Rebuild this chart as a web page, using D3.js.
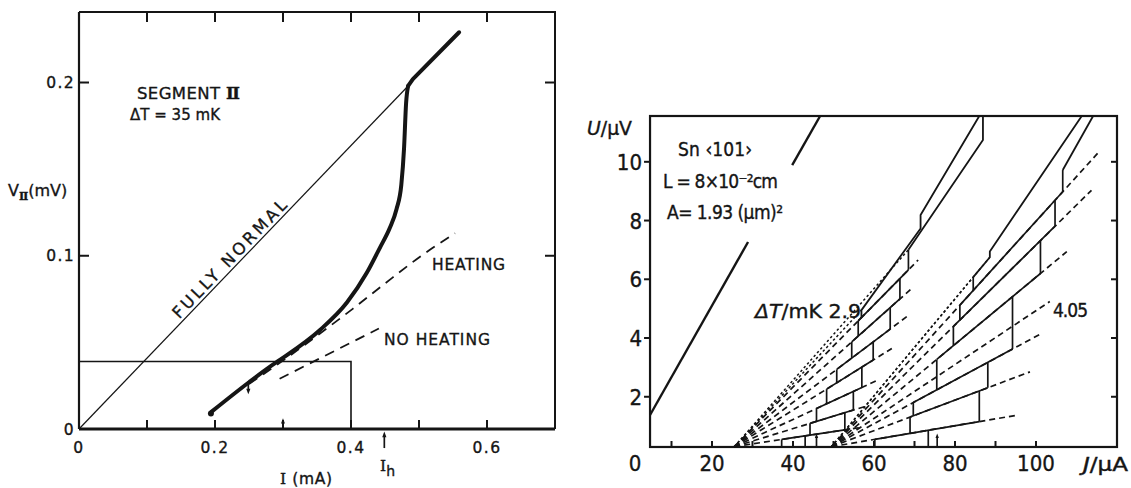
<!DOCTYPE html>
<html>
<head>
<meta charset="utf-8">
<script src="https://cdn.jsdelivr.net/npm/d3@7/dist/d3.min.js"></script>
<style>
  html, body { margin: 0; padding: 0; background: #fff; }
  svg { display: block; }
  .la { font-family: "DejaVu Sans", "Liberation Sans", sans-serif; fill: #151515; stroke: #151515; stroke-width: 0.35px; }
  .lb { font-family: "DejaVu Sans Condensed", "DejaVu Sans", sans-serif; font-stretch: condensed; fill: #151515; stroke: #151515; stroke-width: 0.35px; }
  .rn { font-family: "DejaVu Serif", "Liberation Serif", serif; font-weight: bold; }
  .sf { font-family: "DejaVu Serif", "Liberation Serif", serif; }
</style>
</head>
<body>
<svg id="fig" width="1131" height="488" viewBox="0 0 1131 488"></svg>
<script>
// ================= Left panel: V_II versus I =================
const iDomain = [0, 0.7];
const vDomain = [0, 0.2407];
const iTickLabels = [0, 0.2, 0.4, 0.6];
const iTickMarks = [0.1, 0.2, 0.3, 0.4, 0.5, 0.6];
const vTickLabels = [0, 0.1, 0.2];
const vTickMarks = [0.1, 0.2];

// measured characteristic (thick curve) and its normal-state branch
const measuredIV = [[0.195,0.010],[0.25,0.027],[0.281,0.036],[0.296,0.040],[0.354,0.057],
  [0.394,0.073],[0.423,0.090],[0.443,0.105],[0.457,0.116],[0.467,0.127],[0.474,0.141],
  [0.478,0.162],[0.481,0.188],[0.484,0.198]];
const normalBranch = [[0.484,0.198],[0.491,0.202],[0.559,0.229]];
const fullyNormal = [[0,0],[0.484,0.198]];
const heatingModel = [[0.25,0.026],[0.30,0.0395],[0.354,0.055],[0.403,0.0695],[0.45,0.084],[0.50,0.099],[0.553,0.113]];
const noHeatingModel = [[0.295,0.029],[0.441,0.058]];
const windowBox = [[0,0.039],[0.4,0.039],[0.4,0]];
const startPoint = [0.194, 0.009];
const probeMark = [0.249, 0.0275, 0.0200];   // I, V from, V to
const axisArrowA = [0.30, 0, 0.0062];
const ihArrow = [0.449, -0.011, -0.0015];

// ================= Right panel: U versus J, Sn <101> =================
const jDomain = [0, 120];
const uDomain = [0, 11.56];
const frameJ = [4.7, 120];
const frameU = [0.29, 11.56];
const jTickLabels = [0, 20, 40, 60, 80, 100];
const jTickMarks = [10, 20, 30, 40, 50, 60, 70, 80, 90, 100];
const uTickLabels = [2, 4, 6, 8, 10];

const normalLineLow = [[4.7,1.38],[28.9,7.27]];
const normalLineHigh = [[39.8,9.89],[46.7,11.56]];

// dT = 2.9 mK family
const fanOrigin29 = [25.5, 0.3];
const fanEnds29 = [[56.5,0.951],[58.5,1.70],[60.7,2.553],[64.4,3.645],[68.5,4.772],[69.3,5.687],[70.9,6.656]];
const fanDotted29 = [[68.5,7.008],[56.9,4.95]];
const treads29 = [
  [37.2,0.546,52.8,0.873],[44.2,1.095,54.9,1.550],[45.8,1.599,57.0,2.316],[48.3,2.261,59.8,3.250],
  [50.8,2.931,64.0,4.304],[54.5,3.867,66.4,5.331],[56.1,4.584,68.5,6.320]];
const risers29 = [
  [37.2,0.29,0.546],[43.0,0.29,0.668],
  [44.2,0.693,1.095],[45.8,1.163,1.599],[48.3,1.759,2.261],[50.8,2.476,2.931],[54.5,3.316,3.867],[56.1,4.064,4.584],
  [52.8,0.873,1.460],[54.9,1.550,2.182],[57.0,2.316,3.009],[59.8,3.250,3.867],[64.0,4.304,5.036],[66.4,5.331,6.026],[68.5,6.320,7.008]];
const upper29 = [[56.1,4.584],[56.9,4.70],[56.9,4.95],[71.5,7.73],[71.5,8.19],[86.0,11.56]];
const lower29 = [[68.5,7.008],[86.9,10.74],[86.9,11.56]];
const arrow29 = [45.8, 0.29, 0.75];

// dT = 4.05 mK family
const fanOrigin405 = [49.5, 0.3];
const fanEnds405 = [[95.6,1.379],[98.5,2.848],[101.4,4.161],[103.4,5.243],[107.6,6.941],[113.7,9.031],[115.4,10.317]];
const fanDotted405 = [[88.6,6.752],[84.5,6.075]];
const treads405 = [
  [60.2,0.550,86.0,1.154],[68.9,1.309,88.1,2.307],[69.7,1.803,94.2,3.626],
  [75.5,3.272,101.1,6.198],[79.6,4.394,104.7,7.807],[81.2,5.118,106.6,8.979]];
const risers405 = [
  [60.2,0.29,0.550],[73.4,0.29,0.859],
  [68.9,0.754,1.309],[69.7,1.350,1.803],[75.5,2.234,3.272],[79.6,3.740,4.394],[81.2,4.611,5.118],[84.5,5.620,6.075],
  [86.0,1.154,2.198],[88.1,2.307,3.172],[94.2,3.626,5.409],[101.1,6.198,7.318],[104.7,7.807,8.690],[106.6,8.979,9.720]];
const upper405 = [[84.5,6.075],[88.6,6.752],[88.6,6.95],[111.3,11.56]];
const lower405 = [[106.6,9.72],[114.1,11.56]];
const arrow405 = [75.6, 0.32, 0.75];

// ---------------------------------------------------------------
const ink = "#151515";
const svg = d3.select("#fig");

function arrowUp(g, x, yTail, yHead, s) {
  g.append("line").attr("x1", x).attr("x2", x).attr("y1", yTail).attr("y2", yHead + s)
    .attr("stroke", ink).attr("stroke-width", 1.7);
  g.append("path").attr("d", `M${x},${yHead} L${x - s * 0.6},${yHead + s * 1.6} L${x + s * 0.6},${yHead + s * 1.6} Z`)
    .attr("fill", ink);
}
function arrowDown(g, x, yTail, yHead, s) {
  g.append("line").attr("x1", x).attr("x2", x).attr("y1", yTail).attr("y2", yHead - s)
    .attr("stroke", ink).attr("stroke-width", 1.7);
  g.append("path").attr("d", `M${x},${yHead} L${x - s * 0.6},${yHead - s * 1.6} L${x + s * 0.6},${yHead - s * 1.6} Z`)
    .attr("fill", ink);
}
// single-line label spread to a given width
function fit(sel, w, glyphs) {
  return sel.attr("textLength", w).attr("lengthAdjust", glyphs ? "spacingAndGlyphs" : "spacing");
}

// ======== left panel ========
const xA = d3.scaleLinear().domain(iDomain).range([79, 555]);
const yA = d3.scaleLinear().domain(vDomain).range([429, 12]);
const lineA = d3.line().x(d => xA(d[0])).y(d => yA(d[1]));
const smoothA = d3.line().x(d => xA(d[0])).y(d => yA(d[1])).curve(d3.curveMonotoneX);
const gA = svg.append("g");

gA.append("path").attr("d", lineA([[iDomain[0], vDomain[1]], [iDomain[1], vDomain[1]], [iDomain[1], vDomain[0]]]))
  .attr("fill", "none").attr("stroke", ink).attr("stroke-width", 2);
gA.append("path").attr("d", lineA([[0, 0], [0, vDomain[1]]]))
  .attr("fill", "none").attr("stroke", ink).attr("stroke-width", 2.2);
gA.append("path").attr("d", lineA([[0, 0], [iDomain[1], 0]]))
  .attr("fill", "none").attr("stroke", ink).attr("stroke-width", 2.8);

iTickMarks.forEach(v => {
  gA.append("line").attr("x1", xA(v)).attr("x2", xA(v)).attr("y1", yA(0)).attr("y2", yA(0) - 9)
    .attr("stroke", ink).attr("stroke-width", 2);
  gA.append("line").attr("x1", xA(v)).attr("x2", xA(v)).attr("y1", yA(vDomain[1])).attr("y2", yA(vDomain[1]) + 10)
    .attr("stroke", ink).attr("stroke-width", 2);
});
vTickMarks.forEach(v => {
  gA.append("line").attr("x1", xA(0)).attr("x2", xA(0) + 10).attr("y1", yA(v)).attr("y2", yA(v))
    .attr("stroke", ink).attr("stroke-width", 2);
  gA.append("line").attr("x1", xA(iDomain[1])).attr("x2", xA(iDomain[1]) - 10).attr("y1", yA(v)).attr("y2", yA(v))
    .attr("stroke", ink).attr("stroke-width", 2);
});

const fmtA = v => v === 0 ? "0" : String(v);
iTickLabels.forEach(v => {
  gA.append("text").attr("class", "la").attr("x", xA(v)).attr("y", yA(0) + 24)
    .attr("text-anchor", "middle").attr("font-size", 15.5).attr("letter-spacing", 1.4).text(fmtA(v));
});
vTickLabels.forEach(v => {
  gA.append("text").attr("class", "la").attr("x", xA(0) - 4).attr("y", yA(v) + 5.5)
    .attr("text-anchor", "end").attr("font-size", 15.5).attr("letter-spacing", 1.4).text(fmtA(v));
});

// window rectangle and reference lines
gA.append("path").attr("d", lineA(windowBox)).attr("fill", "none").attr("stroke", ink).attr("stroke-width", 1.6);
gA.append("path").attr("d", lineA(fullyNormal)).attr("fill", "none").attr("stroke", ink).attr("stroke-width", 1.2);
gA.append("path").attr("d", smoothA(heatingModel))
  .attr("fill", "none").attr("stroke", ink).attr("stroke-width", 1.8).attr("stroke-dasharray", "10,7");
gA.append("path").attr("d", lineA(noHeatingModel))
  .attr("fill", "none").attr("stroke", ink).attr("stroke-width", 1.8).attr("stroke-dasharray", "10,7");

// measured curve
gA.append("path").attr("d", smoothA(measuredIV))
  .attr("fill", "none").attr("stroke", ink).attr("stroke-width", 4).attr("stroke-linecap", "round");
gA.append("path").attr("d", lineA(normalBranch))
  .attr("fill", "none").attr("stroke", ink).attr("stroke-width", 4).attr("stroke-linecap", "round").attr("stroke-linejoin", "round");

gA.append("circle").attr("cx", xA(startPoint[0])).attr("cy", yA(startPoint[1])).attr("r", 3).attr("fill", ink);
arrowDown(gA, xA(probeMark[0]), yA(probeMark[1]), yA(probeMark[2]), 3.5);
arrowUp(gA, xA(axisArrowA[0]), yA(axisArrowA[1]), yA(axisArrowA[2]), 3.3);
arrowUp(gA, xA(ihArrow[0]), yA(ihArrow[1]), yA(ihArrow[2]), 3.5);

// annotations
const segLab = fit(gA.append("text").attr("class", "la").attr("x", 137).attr("y", 99).attr("font-size", 16.5), 103);
segLab.append("tspan").text("SEGMENT ");
segLab.append("tspan").attr("class", "rn").text("Ⅱ");
fit(gA.append("text").attr("class", "la").attr("x", 130).attr("y", 120).attr("font-size", 15), 90)
  .text("ΔT = 35 mK");
fit(gA.append("text").attr("class", "la").attr("x", 432).attr("y", 270).attr("font-size", 15.5), 73).text("HEATING");
fit(gA.append("text").attr("class", "la").attr("x", 384).attr("y", 345).attr("font-size", 15.5), 106).text("NO HEATING");

(function () {
  const p0 = [xA(fullyNormal[0][0]), yA(fullyNormal[0][1])];
  const p1 = [xA(fullyNormal[1][0]), yA(fullyNormal[1][1])];
  const ang = Math.atan2(p1[1] - p0[1], p1[0] - p0[0]);
  const t = 0.231 / fullyNormal[1][0];
  const px = p0[0] + (p1[0] - p0[0]) * t + Math.sin(ang) * 3.5;
  const py = p0[1] + (p1[1] - p0[1]) * t - Math.cos(ang) * 3.5;
  fit(gA.append("text").attr("class", "la").attr("font-size", 16.5), 157)
    .attr("text-anchor", "middle")
    .attr("transform", `translate(${px},${py}) rotate(${ang * 180 / Math.PI})`)
    .text("FULLY NORMAL");
})();

const yLab = gA.append("text").attr("class", "la").attr("x", 8).attr("y", 196).attr("font-size", 16);
yLab.append("tspan").text("V");
yLab.append("tspan").attr("class", "rn").attr("font-size", 11).attr("dy", 4).text("Ⅱ");
yLab.append("tspan").attr("dy", -4).text("(mV)");

const iLab = fit(gA.append("text").attr("class", "la").attr("x", 280).attr("y", 484).attr("font-size", 15.5), 52);
iLab.append("tspan").attr("class", "sf").text("I");
iLab.append("tspan").text(" (mA)");
const ihLab = gA.append("text").attr("class", "la").attr("x", 380).attr("y", 471).attr("font-size", 15.5);
ihLab.append("tspan").attr("class", "sf").text("I");
ihLab.append("tspan").attr("dy", 5).attr("font-size", 14).text("h");

// ======== right panel ========
const xB = d3.scaleLinear().domain(jDomain).range([631, 1117]);
const yB = d3.scaleLinear().domain(uDomain).range([455.5, 116]);
const lineB = d3.line().x(d => xB(d[0])).y(d => yB(d[1]));
const gB = svg.append("g");

gB.append("rect").attr("x", xB(frameJ[0])).attr("y", yB(frameU[1]))
  .attr("width", xB(frameJ[1]) - xB(frameJ[0])).attr("height", yB(frameU[0]) - yB(frameU[1]))
  .attr("fill", "none").attr("stroke", ink).attr("stroke-width", 2.2);

jTickMarks.forEach(v => {
  gB.append("line").attr("x1", xB(v)).attr("x2", xB(v)).attr("y1", yB(frameU[0])).attr("y2", yB(frameU[0]) - 6)
    .attr("stroke", ink).attr("stroke-width", 2);
});
uTickLabels.forEach(v => {
  gB.append("line").attr("x1", xB(frameJ[0])).attr("x2", xB(frameJ[0]) - 6).attr("y1", yB(v)).attr("y2", yB(v))
    .attr("stroke", ink).attr("stroke-width", 2);
  gB.append("line").attr("x1", xB(frameJ[1])).attr("x2", xB(frameJ[1]) - 6).attr("y1", yB(v)).attr("y2", yB(v))
    .attr("stroke", ink).attr("stroke-width", 2);
  gB.append("text").attr("class", "lb").attr("x", xB(frameJ[0]) - 8).attr("y", yB(v) + 8)
    .attr("text-anchor", "end").attr("font-size", 22).text(v);
});
jTickLabels.forEach(v => {
  gB.append("text").attr("class", "lb").attr("x", xB(v) + (v === 0 ? 4 : 0)).attr("y", 471)
    .attr("text-anchor", "middle").attr("font-size", 22).text(v);
});

// axis titles
const uLab = fit(gB.append("text").attr("class", "lb").attr("x", 587).attr("y", 135).attr("font-size", 19), 45, true);
uLab.append("tspan").attr("font-style", "italic").text("U");
uLab.append("tspan").text("/μV");
const jLab = fit(gB.append("text").attr("class", "lb").attr("x", 1083).attr("y", 471).attr("font-size", 19), 45, true);
jLab.append("tspan").attr("font-style", "italic").text("J");
jLab.append("tspan").text("/μA");

// sample description
fit(gB.append("text").attr("class", "lb").attr("x", 678).attr("y", 156).attr("font-size", 19), 74).text("Sn ‹101›");
fit(gB.append("text").attr("class", "lb").attr("x", 663).attr("y", 188).attr("font-size", 19), 115).text("L = 8×10⁻²cm");
fit(gB.append("text").attr("class", "lb").attr("x", 667).attr("y", 219).attr("font-size", 19), 116).text("A= 1.93 (μm)²");

const dtLab = fit(gB.append("text").attr("class", "lb").attr("x", 755).attr("y", 318).attr("font-size", 19.5), 106, true);
dtLab.append("tspan").attr("font-style", "italic").text("ΔT");
dtLab.append("tspan").text("/mK 2.9");
fit(gB.append("text").attr("class", "lb").attr("x", 1053).attr("y", 317).attr("font-size", 19), 35).text("4.05");

// normal-state line
[normalLineLow, normalLineHigh].forEach(l => {
  gB.append("path").attr("d", lineB(l)).attr("fill", "none").attr("stroke", ink).attr("stroke-width", 2.4);
});

function family(origin, ends, dotted, treads, risers, upper, lower, arrow) {
  ends.forEach(e => {
    gB.append("path").attr("d", lineB([origin, e])).attr("fill", "none").attr("stroke", ink)
      .attr("stroke-width", 1.7).attr("stroke-dasharray", "6,4");
  });
  dotted.forEach(e => {
    gB.append("path").attr("d", lineB([origin, e])).attr("fill", "none").attr("stroke", ink)
      .attr("stroke-width", 1.5).attr("stroke-dasharray", "2.5,2.5");
  });
  treads.forEach(t => {
    gB.append("path").attr("d", lineB([[t[0], t[1]], [t[2], t[3]]])).attr("fill", "none")
      .attr("stroke", ink).attr("stroke-width", 1.7);
  });
  risers.forEach(r => {
    gB.append("path").attr("d", lineB([[r[0], r[1]], [r[0], r[2]]])).attr("fill", "none")
      .attr("stroke", ink).attr("stroke-width", 1.7);
  });
  [upper, lower].forEach(l => {
    gB.append("path").attr("d", lineB(l)).attr("fill", "none").attr("stroke", ink)
      .attr("stroke-width", 1.8).attr("stroke-linejoin", "round");
  });
  arrowUp(gB, xB(arrow[0]), yB(arrow[1]), yB(arrow[2]), 2.8);
}
family(fanOrigin29, fanEnds29, fanDotted29, treads29, risers29, upper29, lower29, arrow29);
family(fanOrigin405, fanEnds405, fanDotted405, treads405, risers405, upper405, lower405, arrow405);
</script>
</body>
</html>
